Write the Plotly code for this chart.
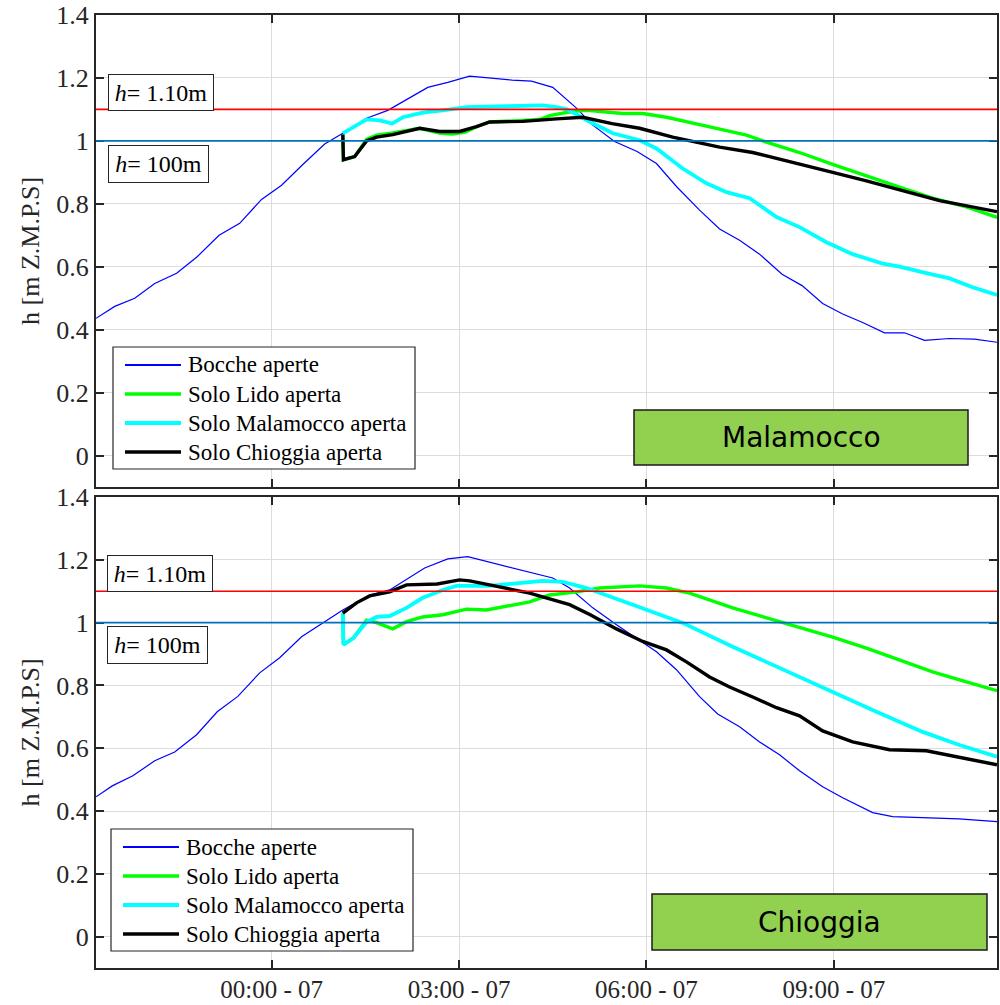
import plotly.graph_objects as go

# ---------------- data ----------------
TICK_HOURS = [0, 3, 6, 9]
TICK_LABELS = ["00:00 - 07", "03:00 - 07", "06:00 - 07", "09:00 - 07"]
SERIES_NAMES = ["Bocche aperte", "Solo Lido aperta", "Solo Malamocco aperta", "Solo Chioggia aperta"]
PANEL_NAMES = ["Malamocco", "Chioggia"]
THRESH_HIGH = 1.10
THRESH_LOW = 1.00
Y_TICKS = [0, 0.2, 0.4, 0.6, 0.8, 1.0, 1.2, 1.4]

# --- top panel (Malamocco) ---
top_blue_t = [-2.81, -2.51, -2.19, -1.87, -1.52, -1.20, -0.84, -0.51, -0.16, 0.16, 0.50, 0.85, 1.14,
              1.52, 1.86, 2.50, 2.82, 3.17, 3.85, 4.16, 4.50, 4.88, 5.14, 5.49, 5.85, 6.16, 6.48,
              6.85, 7.17, 7.49, 7.81, 8.17, 8.49, 8.82, 9.14, 9.46, 9.81, 10.13, 10.45, 10.85, 11.25, 11.61]
top_blue_h = [0.436, 0.474, 0.50, 0.547, 0.579, 0.63, 0.70, 0.738, 0.814, 0.859, 0.925, 0.99, 1.024,
              1.072, 1.097, 1.17, 1.186, 1.206, 1.193, 1.19, 1.17, 1.104, 1.05, 0.998, 0.966, 0.928, 0.855,
              0.78, 0.72, 0.684, 0.64, 0.576, 0.54, 0.483, 0.45, 0.423, 0.39, 0.39, 0.366, 0.372, 0.37, 0.36]

top_green_t = [1.14, 1.15, 1.33, 1.52, 1.68, 1.94, 2.37, 2.69, 2.90, 3.10, 3.28, 3.49, 4.02, 4.29, 4.45,
               4.83, 5.05, 5.62, 5.94, 6.32, 6.96, 7.60, 7.92, 8.45, 8.98, 9.52, 10.05, 10.58, 11.12, 11.61]
top_green_h = [1.02, 0.94, 0.95, 1.005, 1.018, 1.025, 1.04, 1.025, 1.022, 1.028, 1.045, 1.06, 1.065, 1.068, 1.08,
               1.094, 1.097, 1.087, 1.087, 1.075, 1.047, 1.018, 0.996, 0.963, 0.925, 0.89, 0.853, 0.818, 0.79, 0.757]

top_cyan_t = [1.14, 1.52, 1.73, 1.93, 2.10, 2.42, 2.74, 3.12, 3.77, 4.34, 4.56, 4.73, 5.10, 5.46, 5.89,
              6.16, 6.58, 6.96, 7.28, 7.65, 8.08, 8.45, 8.88, 9.30, 9.78, 10.05, 10.48, 10.85, 11.22, 11.61]
top_cyan_h = [1.024, 1.068, 1.065, 1.055, 1.075, 1.09, 1.097, 1.107, 1.11, 1.113, 1.107, 1.10, 1.06, 1.024, 1.002,
              0.976, 0.912, 0.865, 0.837, 0.818, 0.758, 0.726, 0.678, 0.64, 0.61, 0.60, 0.58, 0.563, 0.535, 0.51]

top_black_t = [1.14, 1.15, 1.33, 1.52, 1.68, 1.94, 2.37, 2.69, 3.01, 3.28, 3.49, 4.02, 4.56, 4.98, 5.45,
               5.89, 6.42, 7.17, 7.70, 8.29, 8.98, 9.52, 10.05, 10.69, 11.61]
top_black_h = [1.02, 0.94, 0.95, 1.0, 1.012, 1.02, 1.04, 1.03, 1.03, 1.045, 1.06, 1.062, 1.07, 1.075, 1.055,
               1.04, 1.012, 0.98, 0.963, 0.935, 0.90, 0.873, 0.845, 0.81, 0.775]

# --- bottom panel (Chioggia) ---
bot_blue_t = [-2.81, -2.55, -2.22, -1.87, -1.55, -1.20, -0.87, -0.54, -0.19, 0.13, 0.48, 0.82, 1.14,
              1.57, 1.89, 2.45, 2.82, 3.14, 3.49, 3.97, 4.50, 4.77, 5.14, 5.52, 5.94, 6.16, 6.48,
              6.85, 7.14, 7.49, 7.81, 8.13, 8.45, 8.82, 9.14, 9.62, 9.94, 10.60, 11.00, 11.61]
bot_blue_h = [0.445, 0.48, 0.512, 0.56, 0.588, 0.643, 0.716, 0.765, 0.84, 0.888, 0.955, 0.998, 1.04,
              1.088, 1.104, 1.174, 1.203, 1.21, 1.193, 1.168, 1.142, 1.11, 1.047, 0.993, 0.935, 0.907, 0.85,
              0.764, 0.709, 0.668, 0.62, 0.579, 0.528, 0.477, 0.442, 0.395, 0.382, 0.379, 0.375, 0.366]

bot_green_t = [1.14, 1.15, 1.31, 1.52, 1.68, 1.94, 2.16, 2.42, 2.74, 3.12, 3.44, 3.81, 4.13, 4.45, 4.88,
               5.25, 5.89, 6.32, 6.69, 7.38, 7.92, 8.45, 8.98, 9.52, 10.05, 10.58, 11.12, 11.61]
bot_green_h = [1.03, 0.93, 0.951, 1.008, 1.0, 0.98, 1.003, 1.018, 1.025, 1.043, 1.04, 1.053, 1.066, 1.088, 1.098,
               1.11, 1.117, 1.11, 1.094, 1.047, 1.015, 0.986, 0.954, 0.919, 0.881, 0.843, 0.811, 0.783]

bot_cyan_t = [1.14, 1.15, 1.31, 1.52, 1.68, 1.89, 2.16, 2.42, 2.74, 2.96, 3.49, 4.02, 4.34, 4.66, 5.04,
              5.78, 6.58, 7.38, 8.18, 8.98, 9.68, 10.42, 11.01, 11.61]
bot_cyan_h = [1.03, 0.93, 0.951, 1.002, 1.018, 1.021, 1.047, 1.079, 1.104, 1.117, 1.117, 1.126, 1.133, 1.13, 1.11,
              1.057, 0.999, 0.923, 0.85, 0.78, 0.716, 0.652, 0.61, 0.573]

bot_black_t = [1.14, 1.36, 1.57, 1.89, 2.16, 2.42, 2.65, 3.01, 3.17, 3.49, 3.81, 4.13, 4.77, 5.10, 5.52,
               5.94, 6.32, 6.64, 7.01, 7.33, 7.70, 8.08, 8.45, 8.82, 9.30, 9.89, 10.48, 11.01, 11.61]
bot_black_h = [1.03, 1.063, 1.085, 1.098, 1.12, 1.123, 1.123, 1.136, 1.133, 1.12, 1.107, 1.094, 1.057, 1.025, 0.98,
               0.94, 0.913, 0.875, 0.827, 0.795, 0.763, 0.729, 0.703, 0.655, 0.62, 0.595, 0.592, 0.57, 0.547]

# ---------------- styling ----------------
COLORS = ["#0000FF", "#00FF00", "#00FFFF", "#000000"]
WIDTHS = [1.2, 3.4, 3.8, 3.4]
LEGEND_WIDTHS = [2.0, 3.6, 3.8, 3.6]
SERIF = "Liberation Serif, Times New Roman, serif"
SANS = "DejaVu Sans, sans-serif"
AXC = "#262626"
GRID = "#dcdcdc"

W, H = 1000, 1005
ML, MR, MT, MB = 96, 3, 15, 37
PW, PH = W - ML - MR, H - MT - MB


def px_x(px):
    return (px - ML) / PW


def px_y(py):
    return (H - MB - py) / PH


fig = go.Figure()

panels = [
    ("x", "y", [(top_blue_t, top_blue_h), (top_green_t, top_green_h),
                (top_cyan_t, top_cyan_h), (top_black_t, top_black_h)]),
    ("x2", "y2", [(bot_blue_t, bot_blue_h), (bot_green_t, bot_green_h),
                  (bot_cyan_t, bot_cyan_h), (bot_black_t, bot_black_h)]),
]

for xa, ya, series in panels:
    for i, (t, h) in enumerate(series):
        fig.add_trace(go.Scatter(
            x=t, y=h, mode="lines", name=SERIES_NAMES[i],
            line=dict(color=COLORS[i], width=WIDTHS[i]),
            xaxis=xa, yaxis=ya, showlegend=False, hoverinfo="skip"))

axis_common = dict(
    showline=True, linecolor=AXC, linewidth=2, mirror="ticks",
    ticks="inside", ticklen=8, tickwidth=1.5, tickcolor=AXC,
    showgrid=True, gridcolor=GRID, gridwidth=1.3, zeroline=False,
    automargin=False,
    tickfont=dict(family=SERIF, size=26, color=AXC),
)

x_common = dict(axis_common, range=[-2.81, 11.61], tickvals=TICK_HOURS, ticktext=TICK_LABELS,
                tickfont=dict(family=SERIF, size=25, color=AXC), ticklabelstandoff=-2)
y_common = dict(axis_common, range=[-0.1, 1.4], tickvals=Y_TICKS,
                ticktext=[("%g" % v) for v in Y_TICKS])

fig.update_layout(
    width=W, height=H,
    margin=dict(l=ML, r=MR, t=MT, b=MB, autoexpand=False),
    paper_bgcolor="white", plot_bgcolor="white",
    showlegend=False,
    xaxis=dict(x_common, anchor="y", showticklabels=False),
    yaxis=dict(y_common, anchor="x", domain=[px_y(487), 1.0]),
    xaxis2=dict(x_common, anchor="y2"),
    yaxis2=dict(y_common, anchor="x2", domain=[0.0, px_y(497)]),
)

# threshold lines
for ya, xa in (("y", "x"), ("y2", "x2")):
    fig.add_shape(type="line", xref=xa + " domain", yref=ya, x0=0, x1=1,
                  y0=THRESH_HIGH, y1=THRESH_HIGH, line=dict(color="#FF0000", width=1.6), layer="above")
    fig.add_shape(type="line", xref=xa + " domain", yref=ya, x0=0, x1=1,
                  y0=THRESH_LOW, y1=THRESH_LOW, line=dict(color="#0072BD", width=1.6), layer="above")

# threshold labels
hi_txt = "<i>h</i>= %.2fm" % THRESH_HIGH
lo_txt = "<i>h</i>= %dm" % int(THRESH_LOW * 100)
label_pos = [(161, 92, 158.5, 164), (160, 573, 157, 645)]
for hx, hy, lx, ly in label_pos:
    fig.add_annotation(text=hi_txt, xref="paper", yref="paper", x=px_x(hx), y=px_y(hy),
                       xanchor="center", yanchor="middle",
                       showarrow=False, font=dict(family=SERIF, size=24, color="black"),
                       bgcolor="white", bordercolor=AXC, borderwidth=1, borderpad=3,
                       width=98, height=29)
    fig.add_annotation(text=lo_txt, xref="paper", yref="paper", x=px_x(lx), y=px_y(ly),
                       xanchor="center", yanchor="middle",
                       showarrow=False, font=dict(family=SERIF, size=24, color="black"),
                       bgcolor="white", bordercolor=AXC, borderwidth=1, borderpad=3,
                       width=93, height=30)

# legends (one per panel)
legend_boxes = [(113, 415, 347, 469), (111, 413, 829, 951)]
for (bx0, bx1, by0, by1) in legend_boxes:
    fig.add_shape(type="rect", xref="paper", yref="paper",
                  x0=px_x(bx0), x1=px_x(bx1), y0=px_y(by1), y1=px_y(by0),
                  fillcolor="white", line=dict(color=AXC, width=1.2), layer="above")
    for i, name in enumerate(SERIES_NAMES):
        yy = by0 + 18 + 29 * i
        fig.add_shape(type="line", xref="paper", yref="paper",
                      x0=px_x(bx0 + 12), x1=px_x(bx0 + 68), y0=px_y(yy), y1=px_y(yy),
                      line=dict(color=COLORS[i], width=LEGEND_WIDTHS[i]), layer="above")
        fig.add_annotation(text=name, xref="paper", yref="paper",
                           x=px_x(bx0 + 73), y=px_y(yy), xanchor="left", yanchor="middle",
                           showarrow=False, font=dict(family=SERIF, size=23, color="black"))

# panel name boxes
box_pos = [(634, 968, 410, 465), (652, 987, 894, 950)]
for name, (x0, x1, y0, y1) in zip(PANEL_NAMES, box_pos):
    fig.add_shape(type="rect", xref="paper", yref="paper",
                  x0=px_x(x0), x1=px_x(x1), y0=px_y(y1), y1=px_y(y0), fillcolor="#92D050",
                  line=dict(color="#1a1a1a", width=1.5), layer="above")
    fig.add_annotation(text=name, xref="paper", yref="paper",
                       x=px_x((x0 + x1) / 2), y=px_y((y0 + y1) / 2),
                       xanchor="center", yanchor="middle",
                       showarrow=False, font=dict(family=SANS, size=28, color="black"))

# y-axis titles
for ya in ("y", "y2"):
    fig.add_annotation(text="h [m Z.M.P.S]", xref="paper", yref=ya + " domain",
                       x=px_x(30), y=0.5, xanchor="center", yanchor="middle",
                       textangle=-90, showarrow=False,
                       font=dict(family=SERIF, size=26, color=AXC))

fig.write_html("out.html", config={"displayModeBar": False},
               post_script="document.body.style.margin='0';document.body.style.overflow='hidden';")
